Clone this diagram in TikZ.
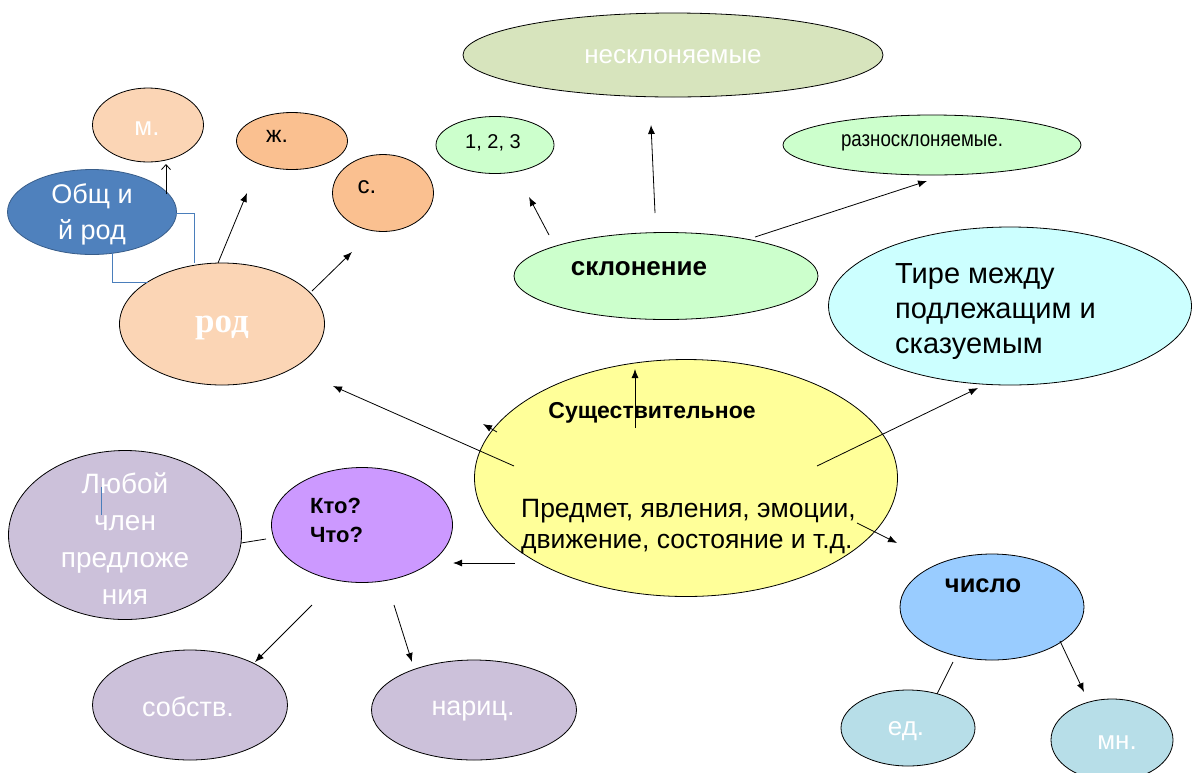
\documentclass[tikz,border=0pt]{standalone}
\usepackage{fontspec}
\setmainfont{Liberation Sans}
\newfontfamily\narrowf{Liberation Sans}[FakeStretch=0.85]
\newfontfamily\serifbf{Liberation Serif}[BoldFont={Liberation Serif Bold}]
\usetikzlibrary{shapes.geometric,arrows.meta}
\definecolor{cOlive}{HTML}{D7E4BD}
\definecolor{cMint}{HTML}{CCFFCC}
\definecolor{cPeach}{HTML}{FBD5B5}
\definecolor{cOrange}{HTML}{FAC090}
\definecolor{cBlueF}{HTML}{4F81BD}
\definecolor{cBlueD}{HTML}{385D8A}
\definecolor{cCyan}{HTML}{CCFFFF}
\definecolor{cYellow}{HTML}{FFFF99}
\definecolor{cLilac}{HTML}{CCC1DA}
\definecolor{cViolet}{HTML}{CC99FF}
\definecolor{cSky}{HTML}{99CCFF}
\definecolor{cAqua}{HTML}{B7DEE8}
\definecolor{cLine}{HTML}{4A7EBB}
\tikzset{
  ell/.style={ellipse, draw=black, line width=0.8pt, inner sep=0pt},
  txt/.style={inner sep=0pt, anchor=center},
  arr/.style={draw=black, line width=0.8pt, -{Latex[length=9pt,width=7pt]}},
  plain/.style={draw=black, line width=0.8pt},
  barb/.style={draw=black, line width=0.8pt, -{Straight Barb[length=5pt,width=9pt]}},
  blueline/.style={draw=cLine, line width=0.8pt}
}
\newcommand{\fs}[2]{\fontsize{#1}{#2}\selectfont}
\begin{document}
\begin{tikzpicture}[x=1pt,y=-1pt]
\useasboundingbox (0,0) rectangle (1193,772);
\fill[white] (0,0) rectangle (1193,772);
% ellipses
\node[ell, fill=cOlive, minimum width=420pt, minimum height=84pt] (nesk) at (673,55) {};
\node[ell, fill=cMint, minimum width=118pt, minimum height=57pt] (n123) at (495,145) {};
\node[ell, fill=cMint, minimum width=298pt, minimum height=60pt] (nraz) at (932,145) {};
\node[ell, fill=cPeach, minimum width=111pt, minimum height=74pt] (nm) at (148,125) {};
\node[ell, fill=cOrange, minimum width=111pt, minimum height=57pt] (nzh) at (292,141) {};
\node[ell, fill=cOrange, minimum width=101pt, minimum height=77pt] (ns) at (383,193) {};
\node[ell, draw=cBlueD, fill=cBlueF, minimum width=169pt, minimum height=85pt] (nob) at (92,212) {};
\node[ell, fill=cPeach, minimum width=205pt, minimum height=122pt] (nrod) at (222,324) {};
\node[ell, fill=cMint, minimum width=304pt, minimum height=87pt] (nskl) at (666,276) {};
\node[ell, fill=cCyan, minimum width=363pt, minimum height=158pt] (ntire) at (1010,306) {};
\node[ell, fill=cYellow, minimum width=423pt, minimum height=237pt] (nsush) at (686,478) {};
\node[ell, fill=cLilac, minimum width=233pt, minimum height=169pt] (nlub) at (125,535) {};
\node[ell, fill=cViolet, minimum width=181pt, minimum height=115pt] (nkto) at (362,525) {};
\node[ell, fill=cLilac, minimum width=195pt, minimum height=110pt] (nsob) at (190,705) {};
\node[ell, fill=cLilac, minimum width=205pt, minimum height=100pt] (nnar) at (474,710) {};
\node[ell, fill=cSky, minimum width=184pt, minimum height=106pt] (nchis) at (992,607) {};
\node[ell, fill=cAqua, minimum width=134pt, minimum height=76pt] (ned) at (908,728) {};
\node[ell, fill=cAqua, minimum width=122pt, minimum height=82pt] (nmn) at (1112,740) {};
% texts
\node[txt, text=white, font=\fs{26}{30}] (tnesk) at (673,57) {несклоняемые};
\node[txt, font=\fs{20}{24}] (t123) at (493,143) {1, 2, 3};
\node[txt, font=\narrowf\fs{22}{26}] (traz) at (922,143) {разносклоняемые.};
\node[txt, text=white, font=\fs{26}{30}] (tm) at (147,129) {м.};
\node[txt, font=\fs{23}{27}] (tzh) at (277,136) {ж.};
\node[txt, font=\fs{24}{28}] (ts) at (367,187) {с.};
\node[txt, text=white, align=center, font=\fs{27}{36}] (tob) at (92,214) {Общ и\\й род};
\node[txt, text=white, font=\serifbf\bfseries\fs{35}{40}] (trod) at (222,328) {род};
\node[txt, font=\bfseries\fs{26}{30}] (tskl) at (639,269) {склонение};
\node[txt, align=left, anchor=west, font=\fs{29}{35}] (ttire) at (895,312) {Тире между\\подлежащим и\\сказуемым};
\node[txt, font=\bfseries\fs{23}{27}] (tsush) at (652,413) {Существительное};
\node[txt, align=left, anchor=west, font=\fs{26.5}{31}] (tpred) at (521,527) {Предмет, явления, эмоции,\\движение, состояние и т.д.};
\node[txt, text=white, align=center, font=\fs{28}{37}] (tlub) at (125,539) {Любой\\член\\предложе\\ния};
\node[txt, align=left, anchor=west, font=\bfseries\fs{22}{29}] (tkto) at (310,520) {Кто?\\Что?};
\node[txt, text=white, font=\fs{27}{31}] (tsob) at (188,707) {собств.};
\node[txt, text=white, font=\fs{27}{31}] (tnar) at (473,711) {нариц.};
\node[txt, font=\bfseries\fs{25.5}{29}] (tchis) at (983,586) {число};
\node[txt, text=white, font=\fs{26}{30}] (ted) at (906,731) {ед.};
\node[txt, text=white, font=\fs{26}{30}] (tmn) at (1117,743) {мн.};
% free ends of connectors
\coordinate (a1s) at (218,263); \coordinate (a1e) at (247,193);
\coordinate (a2s) at (312,291); \coordinate (a2e) at (352,252);
\coordinate (a3s) at (166,194); \coordinate (a3e) at (166,164);
\coordinate (b1s) at (176,213); \coordinate (b1e) at (194,263);
\coordinate (b2s) at (112,253); \coordinate (b2e) at (148,282);
\coordinate (a5s) at (514,466); \coordinate (a5e) at (333,386);
\coordinate (a6s) at (497,432); \coordinate (a6e) at (483,424);
\coordinate (a7s) at (635,428); \coordinate (a7e) at (635,369);
\coordinate (a8s) at (549,235); \coordinate (a8e) at (529,197);
\coordinate (a9s) at (655,213); \coordinate (a9e) at (651,125);
\coordinate (a10s) at (755,237); \coordinate (a10e) at (927,181);
\coordinate (a11s) at (817,466); \coordinate (a11e) at (978,388);
\coordinate (a12s) at (857,523); \coordinate (a12e) at (897,543);
\coordinate (a13s) at (515,563); \coordinate (a13e) at (453,563);
\coordinate (l14s) at (266,539); \coordinate (l14e) at (241,543);
\coordinate (a15s) at (312,605); \coordinate (a15e) at (255,662);
\coordinate (a16s) at (394,605); \coordinate (a16e) at (412,662);
\coordinate (l17s) at (953,662); \coordinate (l17e) at (937,694);
\coordinate (a18s) at (1060,641); \coordinate (a18e) at (1084,692);
\coordinate (c1s) at (101,487); \coordinate (c1e) at (101,515);
% connectors
\draw[arr] (a1s) -- (a1e);
\draw[arr] (a2s) -- (a2e);
\draw[barb] (a3s) -- (a3e);
\draw[blueline] (b1s) -| (b1e);
\draw[blueline] (b2s) |- (b2e);
\draw[arr] (a5s) -- (a5e);
\draw[arr] (a6s) -- (a6e);
\draw[arr] (a7s) -- (a7e);
\draw[arr] (a8s) -- (a8e);
\draw[arr] (a9s) -- (a9e);
\draw[arr] (a10s) -- (a10e);
\draw[arr] (a11s) -- (a11e);
\draw[arr] (a12s) -- (a12e);
\draw[arr] (a13s) -- (a13e);
\draw[plain] (l14s) -- (l14e);
\draw[arr] (a15s) -- (a15e);
\draw[arr] (a16s) -- (a16e);
\draw[plain] (l17s) -- (l17e);
\draw[arr] (a18s) -- (a18e);
\draw[blueline] (c1s) -- (c1e);
\end{tikzpicture}
\end{document}
